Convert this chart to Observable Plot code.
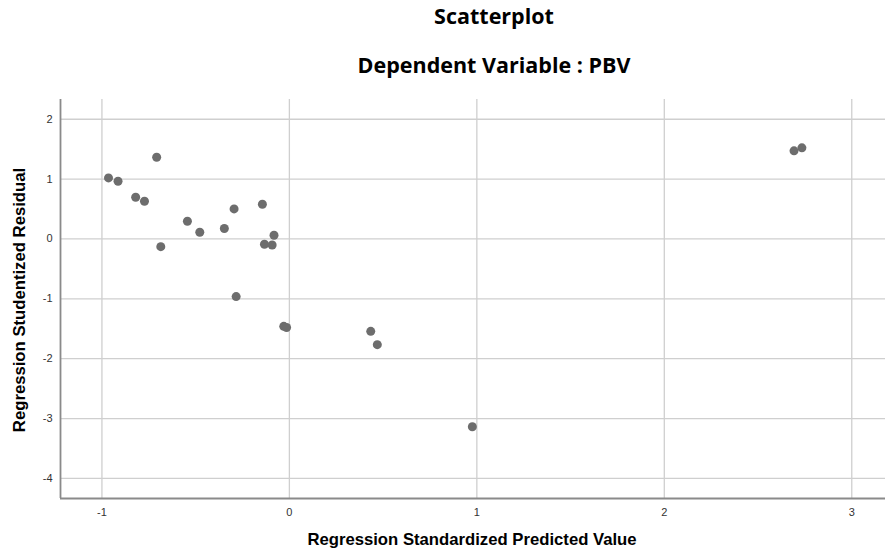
<!DOCTYPE html>
<html>
<head>
<meta charset="utf-8">
<script src="https://cdn.jsdelivr.net/npm/d3@7"></script>
<script src="https://cdn.jsdelivr.net/npm/@observablehq/plot@0.6"></script>
<style>
  html, body { margin: 0; padding: 0; background: #fff; }
  #wrap { position: relative; width: 885px; height: 555px; overflow: hidden; }
  .title { position: absolute; left: 0; width: 988px; text-align: center; font-family: "Open Sans", Lato, sans-serif; font-weight: bold; font-size: 21.5px; color: #000; }
  .axtitle { position: absolute; font-family: Arial, "Liberation Sans", Helvetica, sans-serif; font-weight: bold; font-size: 16.7px; color: #000; white-space: nowrap; }
</style>
</head>
<body>
<div id="wrap">
  <div class="title" style="top:1px;">Scatterplot</div>
  <div class="title" style="top:50px;">Dependent Variable : PBV</div>
  <div id="chart"></div>
  <div class="axtitle" style="left:0; width:944px; text-align:center; top:530px;">Regression Standardized Predicted Value</div>
  <div class="axtitle" id="ytitle">Regression Studentized Residual</div>
</div>
<script>
// Data
const predicted = [-0.965, -0.914, -0.708, -0.820, -0.773, -0.686, -0.544, -0.478, -0.347, -0.295,
                   -0.144, -0.133, -0.092, -0.082, -0.284, -0.030, -0.015, 0.434, 0.469, 0.976, 2.692, 2.734];
const residual  = [1.02, 0.965, 1.366, 0.697, 0.630, -0.128, 0.296, 0.112, 0.174, 0.502,
                   0.580, -0.089, -0.100, 0.062, -0.963, -1.460, -1.480, -1.543, -1.766, -3.137, 1.472, 1.522];
const xTicks = [-1, 0, 1, 2, 3];
const yTicks = [-4, -3, -2, -1, 0, 1, 2];
const xDomain = [-1.221, 3.18];
const yDomain = [-4.336, 2.33];

const points = predicted.map((x, i) => ({x, y: residual[i]}));
const fmt = d => String(d);

const chart = Plot.plot({
  width: 885,
  height: 555,
  marginLeft: 60,
  marginRight: 0,
  marginTop: 99,
  marginBottom: 57,
  style: {fontFamily: "Arial, 'Liberation Sans', sans-serif", fontSize: "11px", color: "#333", background: "#fff"},
  x: {domain: xDomain, ticks: xTicks},
  y: {domain: yDomain, ticks: yTicks},
  marks: [
    Plot.ruleX(xTicks, {stroke: "#cfcfcf", strokeWidth: 1.3, strokeOpacity: 1}),
    Plot.ruleY(yTicks, {stroke: "#cfcfcf", strokeWidth: 1.3, strokeOpacity: 1}),
    Plot.ruleX([xDomain[0]], {stroke: "#8a8a8a", strokeWidth: 1.8}),
    Plot.ruleY([yDomain[0]], {stroke: "#8a8a8a", strokeWidth: 1.8}),
    Plot.axisX(xTicks, {tickSize: 0, tickPadding: 10, label: null, fill: "#333", tickFormat: fmt}),
    Plot.axisY(yTicks, {tickSize: 0, tickPadding: 8, label: null, fill: "#333", tickFormat: fmt}),
    Plot.dot(points, {x: "x", y: "y", r: 4.5, fill: "#6d6d6d", stroke: "none"})
  ]
});
document.getElementById("chart").appendChild(chart);

const yt = document.getElementById("ytitle");
yt.style.left = "20px";
yt.style.top = "300px";
yt.style.transform = "translate(-50%, -50%) rotate(-90deg)";
</script>
</body>
</html>
